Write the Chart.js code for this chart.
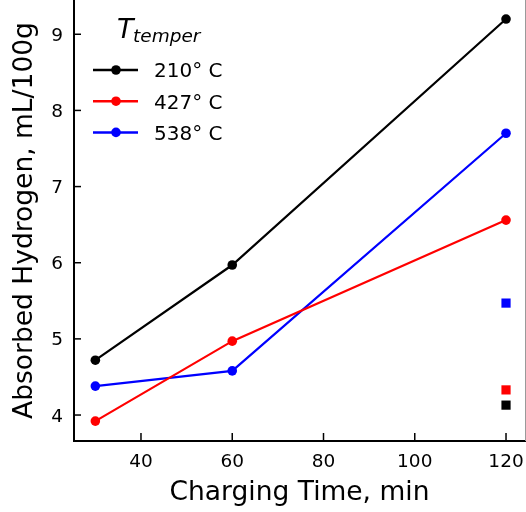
<!DOCTYPE html>
<html>
<head>
<meta charset="utf-8">
<script src="https://cdn.jsdelivr.net/npm/chart.js@4/dist/chart.umd.min.js"></script>
<style>
  html, body { margin: 0; padding: 0; background: #fff; }
  #wrap { width: 526px; height: 512px; }
</style>
</head>
<body>
<div id="wrap"><canvas id="chart" width="526" height="512"></canvas></div>
<script>
// charging time (min) and absorbed hydrogen (mL/100g)
const times = [30, 60, 120];
const h210 = [4.72, 5.97, 9.20];
const h427 = [3.92, 4.97, 6.56];
const h538 = [4.38, 4.58, 7.70];

// single square markers at 120 min
const sqTime = 120;
const sq210 = 4.13;
const sq427 = 4.33;
const sq538 = 5.47;

const xTicks = [40, 60, 80, 100, 120];
const yTicks = [4, 5, 6, 7, 8, 9];

const FONT = "'DejaVu Sans', sans-serif";
const TICK_PX = 18.5;

const toPts = (xs, ys) => xs.map((x, i) => ({ x: x, y: ys[i] }));

const lineSet = (label, color, ys) => ({
  label: label,
  data: toPts(times, ys),
  showLine: true,
  borderColor: color,
  backgroundColor: color,
  borderWidth: 2.2,
  pointRadius: 4.8,
  pointBorderWidth: 0,
  pointHoverRadius: 4.8
});

const squareSet = (color, y) => ({
  label: "",
  data: [{ x: sqTime, y: y }],
  showLine: false,
  backgroundColor: color,
  borderWidth: 0,
  pointStyle: "rect",
  pointRadius: 6.5,
  pointHoverRadius: 6.5,
  isSquare: true
});

// inward ticks + their labels, right spine, legend with subscript title
const decor = {
  id: "decor",
  afterDraw(chart) {
    const ctx = chart.ctx;
    const xs = chart.scales.x, ys = chart.scales.y;
    const a = chart.chartArea;
    ctx.save();
    ctx.strokeStyle = "#000";
    ctx.fillStyle = "#000";
    ctx.lineWidth = 1.5;
    ctx.font = TICK_PX + "px " + FONT;
    ctx.textBaseline = "alphabetic";

    ctx.textAlign = "center";
    xTicks.forEach(v => {
      const px = xs.getPixelForValue(v);
      ctx.beginPath(); ctx.moveTo(px, a.bottom); ctx.lineTo(px, a.bottom - 8); ctx.stroke();
      ctx.fillText(String(v), px, a.bottom + 26);
    });
    ctx.textAlign = "right";
    yTicks.forEach(v => {
      const py = ys.getPixelForValue(v);
      ctx.beginPath(); ctx.moveTo(a.left, py); ctx.lineTo(a.left + 7, py); ctx.stroke();
      ctx.fillText(String(v), a.left - 11, py + 6.6);
    });

    // right spine (clipped edge)
    ctx.strokeStyle = "#9a9a9a";
    ctx.lineWidth = 1;
    ctx.beginPath(); ctx.moveTo(a.right + 0.5, a.top); ctx.lineTo(a.right + 0.5, a.bottom); ctx.stroke();

    // legend title T_temper
    ctx.textAlign = "left";
    ctx.font = "oblique 27px " + FONT;
    ctx.fillText("T", 117, 38);
    ctx.font = "oblique 18.5px " + FONT;
    ctx.fillText("temper", 133, 42);

    // legend items
    ctx.font = "20px " + FONT;
    const items = chart.data.datasets.filter(d => !d.isSquare);
    items.forEach((d, i) => {
      const cy = 70 + i * 31.2;
      ctx.strokeStyle = d.borderColor;
      ctx.lineWidth = 2.5;
      ctx.beginPath(); ctx.moveTo(93, cy); ctx.lineTo(138, cy); ctx.stroke();
      ctx.fillStyle = d.borderColor;
      ctx.beginPath(); ctx.arc(116, cy, 4.8, 0, Math.PI * 2); ctx.fill();
      ctx.fillStyle = "#000";
      ctx.fillText(d.label, 154, cy + 7.3);
    });
    ctx.restore();
  }
};

new Chart(document.getElementById("chart"), {
  type: "scatter",
  data: {
    datasets: [
      lineSet("210\u00b0 C", "#000000", h210),
      lineSet("427\u00b0 C", "#ff0000", h427),
      lineSet("538\u00b0 C", "#0000ff", h538),
      squareSet("#000000", sq210),
      squareSet("#ff0000", sq427),
      squareSet("#0000ff", sq538)
    ]
  },
  options: {
    responsive: false,
    animation: false,
    devicePixelRatio: 1,
    layout: { autoPadding: false, padding: { top: 0, right: 1, bottom: 0, left: 0 } },
    plugins: { legend: { display: false }, tooltip: { enabled: false } },
    scales: {
      x: {
        type: "linear",
        min: 25.32,
        max: 124.16,
        afterBuildTicks: s => { s.ticks = xTicks.map(v => ({ value: v })); },
        afterFit: s => { s.height = 71; },
        grid: { display: false, drawTicks: false },
        border: { display: true, color: "#000", width: 2 },
        ticks: { display: false },
        title: { display: true, text: "Charging Time, min", color: "#000",
                 font: { family: FONT, size: 26.5 }, padding: { top: 0, bottom: 3 } }
      },
      y: {
        type: "linear",
        min: 3.659,
        max: 9.45,
        afterBuildTicks: s => { s.ticks = yTicks.map(v => ({ value: v })); },
        afterFit: s => { s.width = 74; },
        grid: { display: false, drawTicks: false },
        border: { display: true, color: "#000", width: 2 },
        ticks: { display: false },
        title: { display: true, text: "Absorbed Hydrogen, mL/100g", color: "#000",
                 font: { family: FONT, size: 26.5 }, padding: { top: 9, bottom: 0 } }
      }
    }
  },
  plugins: [decor]
});
</script>
</body>
</html>
